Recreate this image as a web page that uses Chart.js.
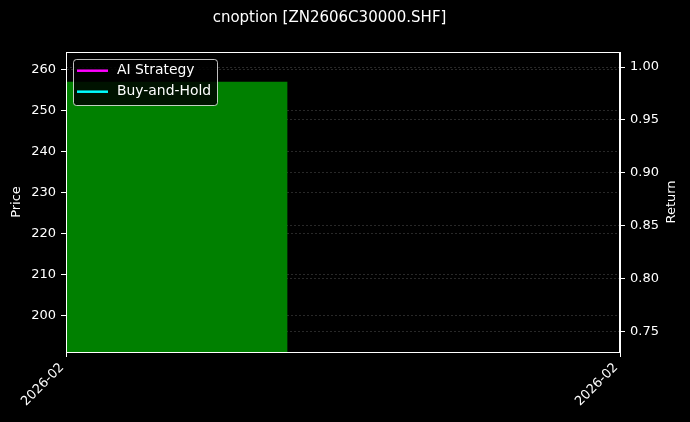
<!DOCTYPE html>
<html>
<head>
<meta charset="utf-8">
<script src="https://cdn.jsdelivr.net/npm/chart.js@4/dist/chart.umd.min.js"></script>
<style>
  html, body { margin: 0; padding: 0; background: #000; }
  #wrap { width: 690px; height: 422px; }
</style>
</head>
<body>
<div id="wrap"><canvas id="chart" width="690" height="422"></canvas></div>
<script>
// Chart data
const chartTitle = 'cnoption [ZN2606C30000.SHF]';
const xTickPos = [0, 1];
const xTickLabels = ['2026-02', '2026-02'];
const priceTicks = [200, 210, 220, 230, 240, 250, 260];
const returnTicks = [0.75, 0.80, 0.85, 0.90, 0.95, 1.00];
const priceRange = [191.0, 264.4];
const returnRange = [0.7308, 1.0142];

// green area (price)
const areaX = [0, 0.4];
const areaPrice = [257.1, 257.1];

// return lines (single point, nothing visible)
const lineX = [0];
const aiReturn = [1.0];
const bhReturn = [1.0];

const FONT = 'DejaVu Sans';
const gridCol = 'rgba(255,255,255,0.2)';

// custom bits: background, frame, title, axis titles, legend
const decor = {
    id: 'decor',
    beforeDraw(chart) {
        const c = chart.ctx;
        c.save();
        c.fillStyle = '#000';
        c.fillRect(0, 0, chart.width, chart.height);
        c.restore();
    },
    afterDraw(chart) {
        const c = chart.ctx;
        const a = chart.chartArea;
        c.save();
        // frame
        c.strokeStyle = '#fff';
        c.lineWidth = 1;
        c.setLineDash([]);
        c.strokeRect(a.left + 0.5, a.top + 0.5, a.right - a.left - 1, a.bottom - a.top);
        // title
        c.fillStyle = '#fff';
        c.font = '15px ' + FONT;
        c.textAlign = 'center';
        c.textBaseline = 'middle';
        c.fillText(chartTitle, 329.5, 18);
        // axis titles
        c.font = '13px ' + FONT;
        const midY = (a.top + a.bottom) / 2;
        c.save();
        c.translate(16.5, midY);
        c.rotate(-Math.PI / 2);
        c.fillText('Price', 0, 0);
        c.restore();
        c.save();
        c.translate(672, midY);
        c.rotate(-Math.PI / 2);
        c.fillText('Return', 0, 0);
        c.restore();
        // legend
        const items = chart.data.datasets.filter(d => d.showInLegend);
        const bx = 73, by = 59, bw = 144, bh = 46;
        c.beginPath();
        c.roundRect(bx + 0.5, by + 0.5, bw, bh, 3);
        c.fillStyle = 'rgba(0,0,0,0.85)';
        c.fill();
        c.strokeStyle = 'rgba(255,255,255,0.75)';
        c.lineWidth = 1;
        c.stroke();
        c.font = '13.9px ' + FONT;
        c.textAlign = 'left';
        c.textBaseline = 'middle';
        items.forEach((d, i) => {
            const y = 70.7 + i * 21;
            c.strokeStyle = d.borderColor;
            c.lineWidth = 2.5;
            c.beginPath();
            c.moveTo(77, y);
            c.lineTo(108, y);
            c.stroke();
            c.fillStyle = '#fff';
            c.fillText(d.label, 117, y);
        });
        c.restore();
    }
};

const ctx = document.getElementById('chart').getContext('2d');
new Chart(ctx, {
    type: 'line',
    data: {
        datasets: [
            {
                label: 'AI Strategy',
                showInLegend: true,
                data: lineX.map((x, i) => ({ x: x, y: aiReturn[i] })),
                yAxisID: 'y1',
                borderColor: '#ff00ff',
                borderWidth: 2,
                pointRadius: 0
            },
            {
                label: 'Buy-and-Hold',
                showInLegend: true,
                data: lineX.map((x, i) => ({ x: x, y: bhReturn[i] })),
                yAxisID: 'y1',
                borderColor: '#00ffff',
                borderWidth: 2,
                pointRadius: 0
            },
            {
                label: 'Price',
                data: areaX.map((x, i) => ({ x: x, y: areaPrice[i] })),
                yAxisID: 'y',
                borderWidth: 0,
                borderColor: 'rgba(0,0,0,0)',
                backgroundColor: '#008000',
                pointRadius: 0,
                fill: 'start'
            }
        ]
    },
    options: {
        responsive: false,
        animation: false,
        devicePixelRatio: 1,
        layout: { padding: { top: 52 } },
        plugins: {
            legend: { display: false },
            title: { display: false },
            tooltip: { enabled: false }
        },
        scales: {
            x: {
                type: 'linear',
                min: 0,
                max: 1,
                afterBuildTicks: s => { s.ticks = xTickPos.map(v => ({ value: v })); },
                afterFit: s => { s.height = 70; },
                ticks: {
                    color: '#fff',
                    font: { family: FONT, size: 13 },
                    minRotation: 45,
                    maxRotation: 45,
                    autoSkip: false,
                    padding: 3,
                    labelOffset: -4,
                    callback: (v, i) => xTickLabels[i]
                },
                grid: { drawOnChartArea: false, tickLength: 5, tickColor: '#fff' },
                border: { color: '#fff' }
            },
            y: {
                position: 'left',
                min: priceRange[0],
                max: priceRange[1],
                afterBuildTicks: s => { s.ticks = priceTicks.map(v => ({ value: v })); },
                afterFit: s => { s.width = 66; },
                ticks: {
                    color: '#fff',
                    font: { family: FONT, size: 13 },
                    padding: 5,
                    callback: v => String(v)
                },
                grid: { color: gridCol, lineWidth: 0.8, tickLength: 5, tickColor: '#fff', tickWidth: 1, tickBorderDash: [] },
                border: { color: '#fff', dash: [2, 2] }
            },
            y1: {
                position: 'right',
                min: returnRange[0],
                max: returnRange[1],
                afterBuildTicks: s => { s.ticks = returnTicks.map(v => ({ value: v })); },
                afterFit: s => { s.width = 70; },
                ticks: {
                    color: '#fff',
                    font: { family: FONT, size: 13 },
                    padding: 5,
                    callback: v => Number(v).toFixed(2)
                },
                grid: { color: gridCol, lineWidth: 0.8, tickLength: 5, tickColor: '#fff', tickWidth: 1, tickBorderDash: [] },
                border: { color: '#fff', dash: [2, 2] }
            }
        }
    },
    plugins: [decor]
});
</script>
</body>
</html>
